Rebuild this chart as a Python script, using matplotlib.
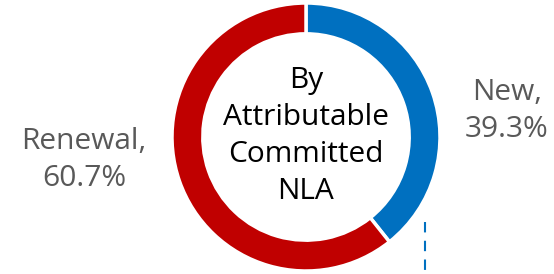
import matplotlib.pyplot as plt

labels = ['New', 'Renewal']
shares = [39.3, 60.7]
colors = ['#0070C0', '#C00000']

plt.rcParams['font.family'] = ['Open Sans', 'DejaVu Sans']

fig = plt.figure(figsize=(5.54, 2.74), dpi=100)
W, H = 554, 274
cx, cy, r = 306, 137, 134
ax = fig.add_axes([(cx - r) / W, (H - cy - r) / H, 2 * r / W, 2 * r / H])

ax.pie(shares, colors=colors, startangle=90, counterclock=False, radius=1,
       wedgeprops=dict(width=0.23, edgecolor='white', linewidth=2.5))
ax.set_xlim(-1, 1)
ax.set_ylim(-1, 1)
ax.set_aspect('equal')
ax.axis('off')

# centre caption
fig.text(cx / W, 1 - 136 / H, 'By\nAttributable\nCommitted\nNLA', ha='center', va='center',
         fontsize=21.5, color='black', linespacing=1.36)

# outside labels
fig.text(507 / W, 1 - 111 / H, f'{labels[0]},\n{shares[0]}%', ha='center', va='center',
         fontsize=21.5, color='#595959', linespacing=1.4)
fig.text(84 / W, 1 - 160 / H, f'{labels[1]},\n{shares[1]}%', ha='center', va='center',
         fontsize=21.5, color='#595959', linespacing=1.4)

# dashed leader line
fig.add_artist(plt.Line2D([425 / W, 425 / W], [1 - 222 / H, 0], color='#0070C0',
                          linewidth=1.5, linestyle=(0, (5, 4))))

fig.savefig('out.png', dpi=100)
